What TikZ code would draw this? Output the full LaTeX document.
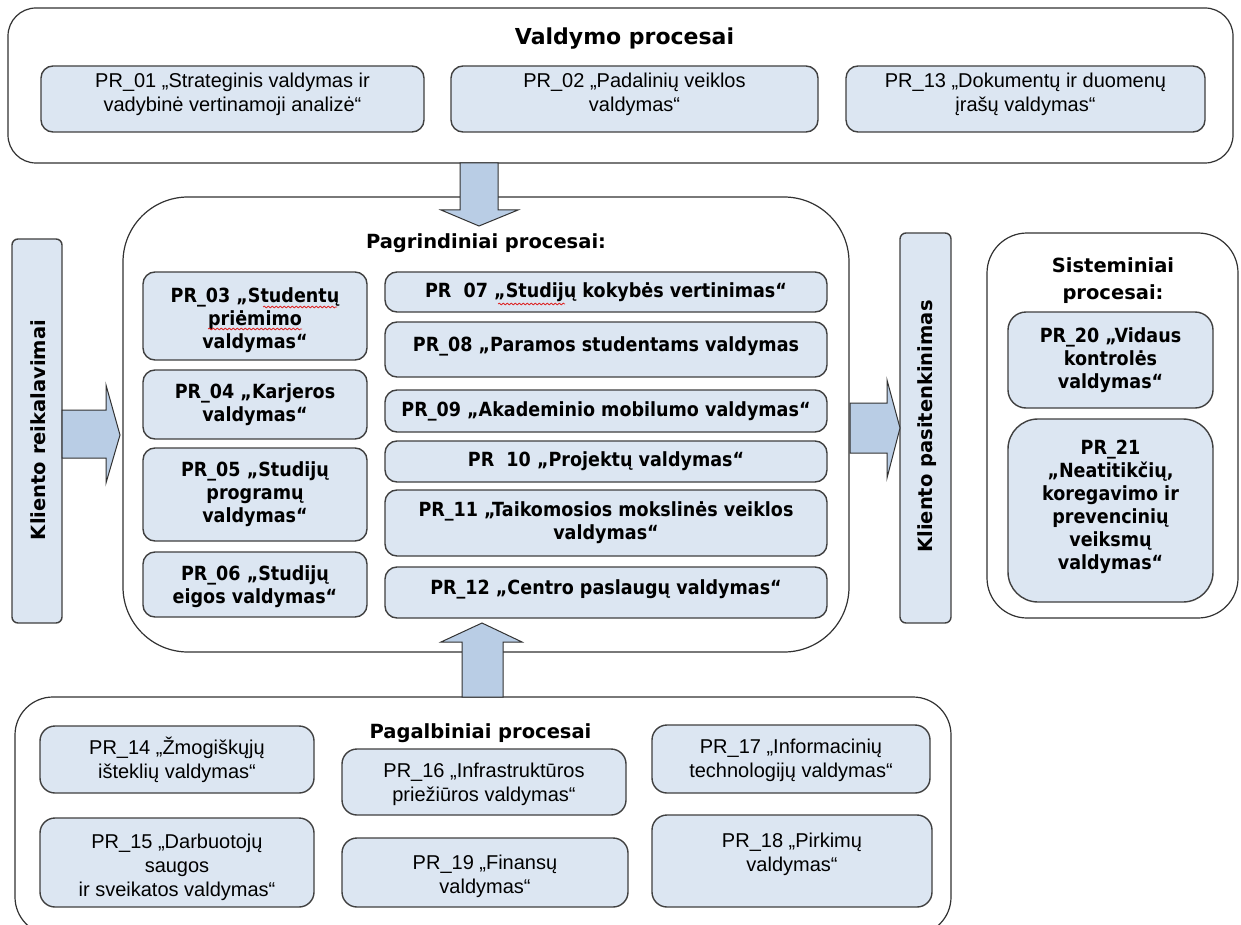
\documentclass[tikz,border=0pt]{standalone}
\usepackage{fontspec}
\usetikzlibrary{decorations.pathmorphing}
\setmainfont{Liberation Sans}
\newfontfamily\cond[FakeStretch=0.9]{DejaVu Sans}
\newfontfamily\dejavu{DejaVu Sans}
\newcommand\lifted[2]{\raisebox{#1}[\height][\depth]{\begin{tabular}{@{}c@{}}#2\end{tabular}}}
\definecolor{boxfill}{RGB}{220,230,242}
\definecolor{arrowfill}{RGB}{185,205,229}
\definecolor{bcol}{RGB}{64,64,64}
\definecolor{ccol}{RGB}{50,50,50}
\definecolor{squigred}{RGB}{220,40,40}
\tikzset{
  regbox/.style={draw=bcol, line width=1.4pt, fill=boxfill, rounded corners=12pt, align=center, inner sep=0pt, font=\fontsize{20}{24}\selectfont},
  boldbox/.style={regbox, font=\cond\bfseries\fontsize{19.5}{23}\selectfont},
  contbox/.style={draw=ccol, line width=1.2pt, rounded corners=#1, inner sep=0pt},
  ttl/.style={font=\dejavu\bfseries\fontsize{19.5}{27}\selectfont, align=center, inner sep=0pt},
  barbox/.style={draw=bcol, line width=1.4pt, fill=boxfill, rounded corners=6pt, inner sep=0pt},
  blockarrow/.style={draw=ccol, line width=1pt, fill=arrowfill, line join=miter},
  squig/.style={draw=squigred, line width=0.8pt, decorate, decoration={snake, amplitude=0.9pt, segment length=4pt}},
}
\begin{document}
\begin{tikzpicture}[x=1pt,y={(0,-1pt)}]
\useasboundingbox (0,0) rectangle (1241,925);
\fill[white] (0,0) rectangle (1241,925);
\clip (0,0) rectangle (1241,925);

% ---------- containers ----------
\node[contbox=28pt, minimum width=1225pt, minimum height=155pt] (topc) at (620.5,85.5) {};
\node[contbox=65pt, minimum width=726pt, minimum height=455pt] (midc) at (486,424.5) {};
\node[contbox=40pt, minimum width=251pt, minimum height=385pt] (sysc) at (1112.5,425.5) {};
\node[contbox=38pt, minimum width=936pt, minimum height=238pt] (botc) at (483,816) {};

% ---------- titles ----------
\node[ttl, font=\dejavu\bfseries\fontsize{22}{26}\selectfont, anchor=base] (ttop) at (624.5,45) {Valdymo procesai};
\node[ttl, anchor=base] (tmid) at (486,249) {Pagrindiniai procesai:};
\node[ttl] (tsys) at (1113,281) {Sisteminiai\\procesai:};
\node[ttl, anchor=base] (tbot) at (480.5,738) {Pagalbiniai procesai};

% ---------- top boxes ----------
\node[regbox, minimum width=383pt, minimum height=66pt] (pr01) at (232.5,99) {\lifted{4pt}{PR\_01 „Strateginis valdymas ir\\vadybinė vertinamoji analizė“}};
\node[regbox, minimum width=367pt, minimum height=66pt] (pr02) at (634.5,99) {\lifted{4pt}{PR\_02 „Padalinių veiklos\\valdymas“}};
\node[regbox, minimum width=359pt, minimum height=66pt] (pr13) at (1025.5,99) {\lifted{4pt}{PR\_13 „Dokumentų ir duomenų\\įrašų valdymas“}};

% ---------- middle left column ----------
\node[boldbox, minimum width=224pt, minimum height=88pt] (pr03) at (255,316) {\lifted{-5pt}{PR\_03 „Studentų\\priėmimo\\valdymas“}};
\node[boldbox, minimum width=224pt, minimum height=69pt] (pr04) at (255,404.5) {PR\_04 „Karjeros\\valdymas“};
\node[boldbox, minimum width=224pt, minimum height=93pt] (pr05) at (255,494.5) {PR\_05 „Studijų\\programų\\valdymas“};
\node[boldbox, minimum width=224pt, minimum height=65pt] (pr06) at (255,584.5) {\lifted{-3pt}{PR\_06 „Studijų\\eigos valdymas“}};

% ---------- middle right column ----------
\node[boldbox, minimum width=442pt, minimum height=40pt] (pr07) at (606,292) {PR\ \ 07 „Studijų kokybės vertinimas“};
\node[boldbox, minimum width=442pt, minimum height=55pt] (pr08) at (606,349.5) {\lifted{3pt}{PR\_08 „Paramos studentams valdymas}};
\node[boldbox, minimum width=442pt, minimum height=42pt] (pr09) at (606,411) {PR\_09 „Akademinio mobilumo valdymas“};
\node[boldbox, minimum width=442pt, minimum height=41pt] (pr10) at (606,461.5) {PR\ \ 10 „Projektų valdymas“};
\node[boldbox, minimum width=442pt, minimum height=66pt] (pr11) at (606,523) {PR\_11 „Taikomosios mokslinės veiklos\\valdymas“};
\node[boldbox, minimum width=442pt, minimum height=51pt] (pr12) at (606,592.5) {\lifted{3pt}{PR\_12 „Centro paslaugų valdymas“}};

% spelling marks
\draw[squig] (263,307) -- (337,307);
\draw[squig] (208,329) -- (302,329);
\draw[squig] (498,304) -- (565,304);

% ---------- side bars ----------
\node[barbox, minimum width=50pt, minimum height=384pt] (lbar) at (37,431) {};
\node[ttl, rotate=90, anchor=base] (ltext) at (45,430) {Kliento reikalavimai};
\node[barbox, minimum width=51pt, minimum height=390pt] (rbar) at (925.5,428) {};
\node[ttl, rotate=90, anchor=base] (rtext) at (932,426.5) {Kliento pasitenkinimas};

% ---------- system boxes ----------
\node[boldbox, rounded corners=18pt, minimum width=205pt, minimum height=96pt] (pr20) at (1110.5,360) {PR\_20 „Vidaus\\kontrolės\\valdymas“};
\node[boldbox, rounded corners=30pt, minimum width=205pt, minimum height=183pt] (pr21) at (1110.5,510.5) {\lifted{3pt}{PR\_21\\„Neatitikčių,\\koregavimo ir\\prevencinių\\veiksmų\\valdymas“}};

% ---------- bottom boxes ----------
\node[regbox, rounded corners=15pt, minimum width=274pt, minimum height=67pt] (pr14) at (177,759.5) {\lifted{-2pt}{PR\_14 „Žmogiškųjų\\išteklių valdymas“}};
\node[regbox, rounded corners=15pt, minimum width=274pt, minimum height=89pt] (pr15) at (177,862.5) {\lifted{-5pt}{PR\_15 „Darbuotojų\\saugos\\ir sveikatos valdymas“}};
\node[regbox, rounded corners=15pt, minimum width=284pt, minimum height=66pt] (pr16) at (484,782) {\lifted{-3pt}{PR\_16 „Infrastruktūros\\priežiūros valdymas“}};
\node[regbox, rounded corners=15pt, minimum width=286pt, minimum height=69pt] (pr19) at (485,872.5) {\lifted{-4pt}{PR\_19 „Finansų\\valdymas“}};
\node[regbox, rounded corners=15pt, minimum width=278pt, minimum height=68pt] (pr17) at (791,759) {\lifted{-2pt}{PR\_17 „Informacinių\\technologijų valdymas“}};
\node[regbox, rounded corners=15pt, minimum width=280pt, minimum height=92pt] (pr18) at (792,861) {\lifted{6pt}{PR\_18 „Pirkimų\\valdymas“}};

% ---------- block arrows ----------
\draw[blockarrow] (460,163) -- (460,210) -- (441,210) -- (479,226) -- (518,210) -- (498,210) -- (498,163) -- cycle;
\draw[blockarrow] (462,697) -- (462,642) -- (441,642) -- (482,623) -- (522,642) -- (503,642) -- (503,697) -- cycle;
\draw[blockarrow] (62,410) -- (106,410) -- (106,385) -- (120,435) -- (106,483) -- (106,458) -- (62,458) -- cycle;
\draw[blockarrow] (850,403) -- (887,403) -- (887,380) -- (900,428) -- (887,478) -- (887,453) -- (850,453) -- cycle;
\end{tikzpicture}
\end{document}
